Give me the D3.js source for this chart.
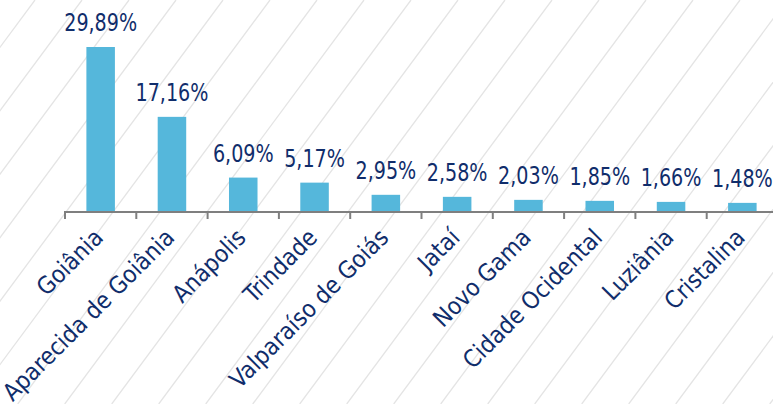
<!DOCTYPE html>
<html>
<head>
<meta charset="utf-8">
<script src="https://cdn.jsdelivr.net/npm/d3@7"></script>
<style>
  body { margin: 0; background: #fff; }
  svg { display: block; }
</style>
</head>
<body>
<script>
var cidades = ["Goiânia", "Aparecida de Goiânia", "Anápolis", "Trindade", "Valparaíso de Goiás",
  "Jataí", "Novo Gama", "Cidade Ocidental", "Luziânia", "Cristalina"];
var participacao = [29.89, 17.16, 6.09, 5.17, 2.95, 2.58, 2.03, 1.85, 1.66, 1.48];
var rotulos = ["29,89%", "17,16%", "6,09%", "5,17%", "2,95%", "2,58%", "2,03%", "1,85%", "1,66%", "1,48%"];

var width = 773, height = 404;
var baseY = 211;

var svg = d3.select("body").append("svg")
  .attr("width", width)
  .attr("height", height);

// diagonal hatch background
var hatch = svg.append("g").attr("class", "hatch");
d3.range(0, 25).forEach(function(k) {
  var x0 = 35 + k * 47;
  hatch.append("line")
    .attr("x1", x0).attr("y1", 0)
    .attr("x2", x0 - height / 1.35).attr("y2", height)
    .attr("stroke", "#e4e4e4")
    .attr("stroke-width", 1.3);
});

var x = d3.scaleBand()
  .domain(cidades)
  .range([65, 778])
  .paddingInner(0.6)
  .paddingOuter(0.3);

var y = d3.scaleLinear()
  .domain([0, 29.89])
  .range([baseY, 47]);

var data = cidades.map(function(c, i) { return {cidade: c, valor: participacao[i], rotulo: rotulos[i]}; });

svg.selectAll(".bar")
  .data(data)
  .enter().append("rect")
    .attr("class", "bar")
    .attr("x", function(d) { return x(d.cidade); })
    .attr("y", function(d) { return y(d.valor); })
    .attr("width", x.bandwidth())
    .attr("height", function(d) { return baseY - y(d.valor); })
    .attr("fill", "#55b7db");

// axis line + ticks at the band edges
var axis = svg.append("g").attr("class", "x-axis");
axis.append("line")
  .attr("x1", 65).attr("x2", width)
  .attr("y1", baseY + 1).attr("y2", baseY + 1)
  .attr("stroke", "#7f7f7f").attr("stroke-width", 2);

axis.selectAll(".tick")
  .data(cidades)
  .enter().append("line")
    .attr("x1", function(d) { return x(d) - x.step() * x.paddingInner() / 2; })
    .attr("x2", function(d) { return x(d) - x.step() * x.paddingInner() / 2; })
    .attr("y1", baseY).attr("y2", baseY + 8)
    .attr("stroke", "#7f7f7f").attr("stroke-width", 2);

// value labels, squeezed a bit to get the narrow look of the original
svg.selectAll(".valor")
  .data(data)
  .enter().append("text")
    .attr("class", "valor")
    .attr("transform", function(d) {
      return "translate(" + (x(d.cidade) + x.bandwidth() / 2) + "," + (y(d.valor) - 16) + ") scale(0.85,1)";
    })
    .attr("text-anchor", "middle")
    .attr("font-family", "'DejaVu Sans Condensed', 'DejaVu Sans', sans-serif")
    .attr("font-size", 25)
    .attr("fill", "#102d6b")
    .text(function(d) { return d.rotulo; });

svg.selectAll(".cidade")
  .data(data)
  .enter().append("text")
    .attr("class", "cidade")
    .attr("transform", function(d) {
      return "translate(" + (x(d.cidade) + x.bandwidth() / 2 + 4) + "," + 239 + ") rotate(-45)";
    })
    .attr("text-anchor", "end")
    .attr("font-family", "'DejaVu Sans Condensed', 'DejaVu Sans', sans-serif")
    .attr("font-size", 24)
    .attr("fill", "#102d6b")
    .text(function(d) { return d.cidade; });
</script>
</body>
</html>
